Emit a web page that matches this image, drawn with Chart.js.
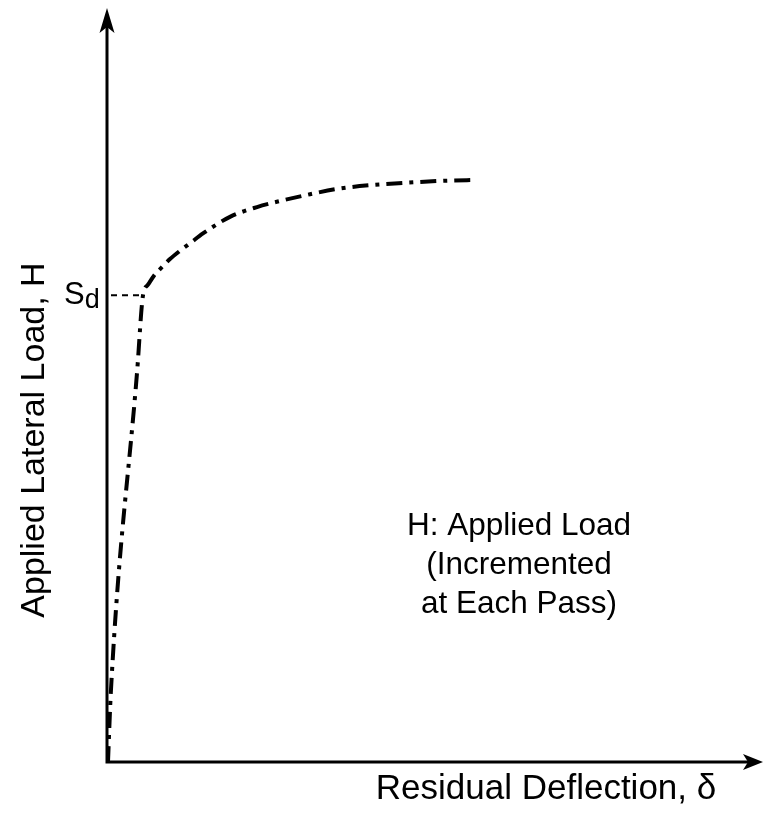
<!DOCTYPE html>
<html>
<head>
<meta charset="utf-8">
<title>Applied Lateral Load vs Residual Deflection</title>
<script src="https://cdn.jsdelivr.net/npm/chart.js@4.4.1/dist/chart.umd.min.js"></script>
<style>
  html, body { margin: 0; padding: 0; background: #fff; }
  #wrap { position: relative; width: 763px; height: 814px; }
</style>
</head>
<body>
<div id="wrap"><canvas id="loadCurve"></canvas></div>
<script>
// load-deflection curve, arbitrary units (0..100 on both axes)
const deflection = [0.15, 0.6, 4.6, 5.49, 6.25, 7.16, 8.23, 9.6, 11.13, 12.8, 14.63, 18.75, 22.87, 26.37, 30.95, 35.06, 40.09, 45.12, 51.83, 56.4];
const lateralLoad = [0, 9.5, 51.9, 61.9, 63.3, 64.5, 65.5, 66.7, 67.8, 68.9, 70.1, 72.3, 73.6, 74.4, 75.3, 76.0, 76.5, 76.8, 77.1, 77.2];

// design strength marker
const sdLoad = 61.9;
const sdDeflection = 5.49;

const xTitle = 'Residual Deflection, \u03b4';
const yTitle = 'Applied Lateral Load, H';
const noteLines = ['H: Applied Load', '(Incremented', 'at Each Pass)'];

const FONT = '"Liberation Sans", Arial, Helvetica, sans-serif';

const sketchPlugin = {
  id: 'sketch',
  afterDraw(chart) {
    const { ctx, chartArea: a, scales: { x, y } } = chart;
    ctx.save();
    ctx.strokeStyle = '#000';
    ctx.fillStyle = '#000';

    // axes
    ctx.lineWidth = 3;
    ctx.beginPath();
    ctx.moveTo(a.left, a.bottom);
    ctx.lineTo(a.left, a.top + 18);
    ctx.moveTo(a.left - 1.5, a.bottom);
    ctx.lineTo(a.right - 14, a.bottom);
    ctx.stroke();

    // arrow heads
    ctx.beginPath();
    ctx.moveTo(a.left, a.top);
    ctx.lineTo(a.left - 7.5, a.top + 25);
    ctx.lineTo(a.left, a.top + 19);
    ctx.lineTo(a.left + 7.5, a.top + 25);
    ctx.closePath();
    ctx.fill();
    ctx.beginPath();
    ctx.moveTo(a.right, a.bottom);
    ctx.lineTo(a.right - 20, a.bottom - 8);
    ctx.lineTo(a.right - 15, a.bottom);
    ctx.lineTo(a.right - 20, a.bottom + 8);
    ctx.closePath();
    ctx.fill();

    // S_d leader
    const ySd = y.getPixelForValue(sdLoad);
    ctx.lineWidth = 2;
    ctx.setLineDash([6, 5]);
    ctx.beginPath();
    ctx.moveTo(a.left + 4, ySd);
    ctx.lineTo(x.getPixelForValue(sdDeflection), ySd);
    ctx.stroke();
    ctx.setLineDash([]);

    ctx.textAlign = 'left';
    ctx.textBaseline = 'alphabetic';
    ctx.font = `31px ${FONT}`;
    ctx.fillText('S', 64, ySd + 9);
    const sw = ctx.measureText('S').width;
    ctx.font = `27px ${FONT}`;
    ctx.fillText('d', 64 + sw, ySd + 13);

    // note
    ctx.font = `31.5px ${FONT}`;
    ctx.textAlign = 'center';
    noteLines.forEach((line, i) => ctx.fillText(line, 519, 535 + i * 39));

    // axis titles
    ctx.font = `35px ${FONT}`;
    ctx.fillText(xTitle, 546, 799);
    ctx.font = `34px ${FONT}`;
    ctx.translate(44, 440);
    ctx.rotate(-Math.PI / 2);
    ctx.fillText(yTitle, 0, 0);

    ctx.restore();
  }
};

new Chart(document.getElementById('loadCurve'), {
  type: 'line',
  data: {
    datasets: [{
      data: deflection.map((d, i) => ({ x: d, y: lateralLoad[i] })),
      borderColor: '#000',
      borderWidth: 4,
      borderDash: [16, 7, 4, 7],
      borderCapStyle: 'butt',
      cubicInterpolationMode: 'monotone',
      pointRadius: 0,
      fill: false
    }]
  },
  options: {
    responsive: true,
    maintainAspectRatio: false,
    animation: false,
    layout: { padding: { left: 107, top: 8, right: 0, bottom: 52 } },
    plugins: { legend: { display: false }, tooltip: { enabled: false } },
    scales: {
      x: { type: 'linear', display: false, min: 0, max: 100 },
      y: { type: 'linear', display: false, min: 0, max: 100 }
    }
  },
  plugins: [sketchPlugin]
});
</script>
</body>
</html>
